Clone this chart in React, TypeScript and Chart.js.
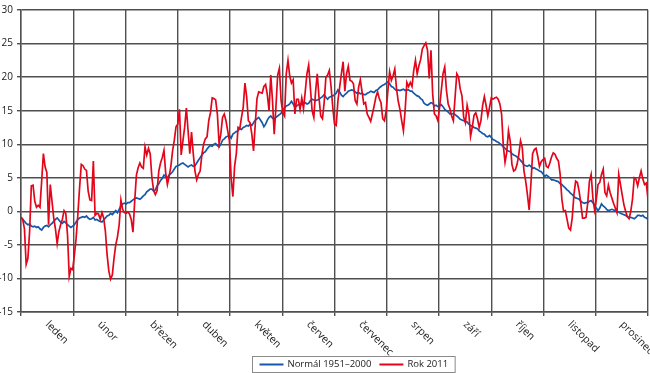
import React, { useEffect, useRef } from "react";
import { Chart, registerables } from "chart.js";

Chart.register(...registerables);

const MONTHS = ["leden", "únor", "březen", "duben", "květen", "červen", "červenec", "srpen", "září", "říjen", "listopad", "prosinec"];
const SERIES_NAMES = ["Normál 1951–2000", "Rok 2011"];
const Y_MIN = -15;
const Y_MAX = 30;
const Y_STEP = 5;

// daily normal 1951–2000 (°C)
const NORMAL = [
  -0.9, -1.2, -1.5, -1.8, -2.0, -1.9, -2.2, -2.3, -2.2, -2.4, -2.3, -2.6, -2.8, -2.4, -2.2, -2.1, -2.3, -2.0, -1.8, -1.5, -1.2, -1.0, -1.3, -1.6, -1.8, -1.5, -1.7, -2.0, -2.2, -2.4, -2.2,
  -2.0, -1.6, -1.2, -1.0, -0.9, -0.8, -0.9, -0.7, -1.0, -1.2, -1.1, -0.9, -1.3, -1.2, -1.4, -1.5, -1.6, -1.3, -1.0, -0.7, -0.6, -0.3, -0.5, -0.2, 0.1, -0.2, 0.3, 0.8, 1.1, 1.2, 1.1, 1.3,
  1.3, 1.5, 1.7, 1.9, 2.0, 1.9, 1.8, 2.0, 2.3, 2.5, 2.9, 3.1, 3.3, 3.3, 3.0, 3.2, 3.8, 4.1, 4.6, 4.9, 5.4, 5.2, 5.0, 5.4, 5.6, 5.9, 6.3, 6.7, 6.8, 6.9, 7.1,
  7.2, 7.0, 6.8, 6.6, 6.8, 6.9, 6.7, 6.8, 7.2, 7.6, 8.0, 8.4, 8.7, 8.9, 9.3, 9.6, 9.8, 9.7, 10.0, 10.1, 9.8, 9.6, 10.0, 10.6, 10.8, 11.1, 11.2, 11.3, 10.9, 11.5,
  11.7, 11.9, 12.0, 12.3, 12.2, 12.5, 12.6, 12.8, 12.7, 13.0, 12.8, 13.2, 13.6, 13.8, 14.0, 13.6, 13.2, 12.6, 13.0, 13.6, 14.0, 14.2, 13.9, 13.7, 14.0, 14.2, 14.4, 14.6, 15.2, 15.4, 15.7,
  15.8, 16.0, 16.4, 16.0, 15.5, 15.7, 15.9, 16.0, 15.9, 16.1, 16.2, 16.0, 16.1, 16.5, 16.7, 16.6, 16.5, 16.6, 16.7, 16.9, 17.1, 17.4, 17.0, 16.7, 17.0, 17.1, 17.2, 17.4, 17.6, 18.1,
  17.8, 17.3, 17.1, 17.4, 17.6, 17.9, 18.0, 18.1, 18.0, 17.8, 17.6, 17.7, 17.5, 17.6, 17.4, 17.4, 17.6, 17.7, 17.9, 17.8, 17.7, 18.0, 18.1, 18.4, 18.6, 18.8, 18.9, 19.1, 19.3, 19.0, 18.6,
  18.5, 18.2, 18.0, 18.1, 18.0, 18.1, 18.2, 18.0, 18.1, 18.1, 17.9, 17.9, 17.6, 17.4, 17.2, 17.1, 16.8, 16.6, 16.1, 15.9, 15.8, 16.0, 16.2, 16.1, 15.7, 15.8, 15.6, 15.7, 15.9, 15.6, 15.2,
  15.0, 14.8, 14.5, 14.5, 14.6, 14.4, 14.2, 14.0, 13.7, 13.6, 13.5, 13.4, 13.3, 13.0, 12.8, 12.7, 12.5, 12.4, 12.3, 12.0, 11.8, 11.6, 11.5, 11.2, 11.1, 11.3, 11.0, 10.7, 10.6, 10.4,
  10.3, 10.1, 9.9, 9.6, 9.4, 9.1, 9.0, 8.9, 8.6, 8.4, 8.3, 8.1, 7.9, 7.6, 7.3, 6.9, 6.8, 6.7, 6.9, 6.7, 6.4, 6.5, 6.3, 6.2, 6.0, 5.9, 5.6, 5.2, 5.4, 5.2, 5.0,
  4.7, 4.7, 4.6, 4.5, 4.4, 4.1, 4.0, 3.7, 3.5, 3.2, 3.0, 2.7, 2.5, 2.2, 2.0, 1.9, 1.8, 1.5, 1.3, 1.2, 1.3, 1.3, 1.5, 1.6, 1.3, 0.8, 0.5, 0.1, 0.5, 1.1,
  0.8, 0.6, 0.3, 0.1, 0.2, 0.3, 0.2, 0.1, 0.0, -0.1, -0.3, -0.4, -0.5, -0.6, -0.8, -0.9, -0.9, -1.0, -1.1, -0.9, -0.6, -0.6, -0.7, -0.6, -0.9, -1.0, -1.2,
];

// daily values 2011 (°C)
const Y2011 = [
  -0.9, -1.2, -2.6, -7.9, -7.0, -3.0, 3.8, 3.9, 1.5, 0.6, 0.9, 0.6, 4.5, 8.6, 6.6, 5.8, -2.0, 4.0, 1.5, -1.0, -2.6, -4.8, -3.0, -2.0, -1.2, 0.1, -0.3, -3.5, -9.7, -8.5, -8.7,
  -6.5, -4.0, -0.5, 3.5, 7.0, 6.8, 6.3, 6.1, 3.0, 1.7, 1.6, 7.5, -0.6, -0.3, -0.4, -1.2, -0.2, -1.0, -3.0, -6.5, -8.9, -10.1, -9.5, -7.0, -5.0, -3.8, -2.0, 1.7, 0.3, -0.2,
  -0.3, -0.1, -0.4, -1.2, -3.1, 1.5, 5.4, 6.5, 7.2, 6.6, 6.4, 9.6, 8.4, 9.4, 8.6, 5.0, 3.1, 2.5, 3.1, 6.0, 7.2, 8.0, 9.1, 5.7, 4.0, 5.2, 6.7, 9.0, 10.6, 12.6,
  13.0, 15.2, 8.4, 10.5, 12.5, 15.4, 12.0, 8.6, 11.8, 8.6, 6.0, 4.7, 5.5, 6.0, 8.4, 10.0, 10.8, 11.1, 13.5, 14.7, 16.9, 16.8, 16.6, 14.5, 10.1, 11.5, 14.0, 14.5, 13.5, 12.0,
  10.5, 5.0, 2.2, 6.7, 8.6, 12.5, 12.3, 14.0, 15.5, 19.1, 17.1, 13.5, 13.2, 11.5, 9.0, 13.0, 16.8, 17.8, 17.7, 17.6, 18.6, 18.9, 17.4, 15.0, 20.3, 16.5, 11.5, 15.5, 20.3, 21.3,
  16.5, 14.7, 14.2, 20.5, 22.5, 20.2, 19.1, 19.6, 14.5, 16.7, 16.7, 15.2, 16.9, 15.3, 17.8, 20.5, 21.8, 18.4, 15.0, 14.0, 17.8, 20.5, 17.0, 14.2, 13.8, 16.2, 20.0, 20.3, 21.0, 18.6,
  15.5, 13.0, 12.8, 16.5, 18.5, 20.5, 22.3, 17.9, 20.5, 21.6, 19.5, 19.4, 19.0, 16.5, 16.0, 18.5, 19.6, 17.8, 16.0, 16.2, 14.5, 14.0, 13.4, 14.5, 15.7, 17.0, 17.8, 16.8, 16.2, 13.8,
  13.5, 15.0, 18.0, 20.8, 19.5, 20.2, 21.2, 18.3, 16.4, 15.2, 13.5, 12.0, 15.0, 19.2, 18.6, 19.2, 18.6, 21.0, 22.5, 20.5, 21.7, 22.6, 24.2, 24.7, 25.1, 24.0, 19.8, 24.0, 17.5, 14.5,
  14.2, 13.5, 15.5, 18.0, 20.5, 21.5, 18.0, 16.0, 15.3, 14.2, 13.5, 17.0, 20.5, 20.0, 18.2, 17.2, 14.0, 13.2, 15.8, 14.5, 11.2, 12.6, 14.3, 14.7, 13.8, 12.5, 13.5, 15.8, 17.1, 15.8,
  14.2, 15.5, 16.9, 16.7, 16.9, 17.0, 16.7, 16.0, 14.5, 9.8, 7.3, 8.8, 12.0, 10.5, 7.0, 6.0, 6.2, 7.0, 8.5, 10.5, 9.5, 6.0, 4.5, 2.5, 0.2, 4.0, 8.6, 9.2, 9.4, 8.2,
  6.7, 7.4, 7.7, 7.9, 6.7, 6.5, 7.2, 8.1, 8.7, 8.5, 7.9, 7.5, 5.5, 1.8, 0.0, 0.1, -1.2, -2.5, -2.8, -1.0, 2.5, 4.5, 4.3, 3.0, 1.2, -1.0, -1.0, -0.9, 1.2, 4.5,
  5.5, 2.0, 0.2, 1.8, 4.0, 4.3, 5.5, 6.3, 2.8, 2.3, 3.9, 2.8, 2.0, 1.2, 0.5, -0.2, 5.5, 4.0, 2.5, 1.0, 0.0, -0.8, -1.1, 0.0, 1.8, 5.0, 4.8, 3.8, 5.0, 6.0,
  4.8, 4.0, 4.2, 1.8,
];

const BLUE = "#1558a8";
const RED = "#e3061b";
const GRID = "#4f4f4f";
const TEXT = "#1a1a1a";
const FONT = "'Open Sans', sans-serif";

const LAST = Y2011.length - 1;

const overlayPlugin = {
  id: "overlay",
  afterDraw(chart: any) {
    const ctx = chart.ctx;
    const xs = chart.scales.x;
    const area = chart.chartArea;
    ctx.save();
    ctx.font = `10.5px ${FONT}`;
    ctx.fillStyle = TEXT;
    ctx.textAlign = "left";
    ctx.textBaseline = "middle";
    const span = LAST / MONTHS.length;
    MONTHS.forEach((m, i) => {
      const cx = xs.getPixelForValue((i + 0.5) * span);
      ctx.save();
      ctx.translate(cx, area.bottom + 11);
      ctx.rotate(Math.PI / 4);
      ctx.fillText(m, 0, 0);
      ctx.restore();
    });

    // legend box
    ctx.font = `9.5px ${FONT}`;
    const sample = 24;
    const gapS = 4;
    const gapItem = 8;
    const pad = 7;
    const w1 = ctx.measureText(SERIES_NAMES[0]).width;
    const w2 = ctx.measureText(SERIES_NAMES[1]).width;
    const total = pad + sample + gapS + w1 + gapItem + sample + gapS + w2 + pad;
    const cxLegend = 353.5;
    const x0 = Math.round(cxLegend - total / 2) + 0.5;
    const y0 = 356.5;
    const h = 16;
    ctx.strokeStyle = "#8a8a8a";
    ctx.lineWidth = 1;
    ctx.strokeRect(x0, y0, total, h);
    const cy = y0 + h / 2;
    let x = x0 + pad;
    ctx.lineWidth = 2;
    ctx.strokeStyle = BLUE;
    ctx.beginPath();
    ctx.moveTo(x, cy);
    ctx.lineTo(x + sample, cy);
    ctx.stroke();
    x += sample + gapS;
    ctx.fillText(SERIES_NAMES[0], x, cy);
    x += w1 + gapItem;
    ctx.strokeStyle = RED;
    ctx.beginPath();
    ctx.moveTo(x, cy);
    ctx.lineTo(x + sample, cy);
    ctx.stroke();
    x += sample + gapS;
    ctx.fillText(SERIES_NAMES[1], x, cy);
    ctx.restore();
  },
};

export default function App() {
  const ref = useRef<HTMLCanvasElement | null>(null);

  useEffect(() => {
    if (!ref.current) return;
    const chart = new Chart(ref.current, {
      type: "line",
      data: {
        datasets: [
          {
            label: SERIES_NAMES[1],
            data: Y2011.map((v, i) => ({ x: i, y: v })),
            borderColor: RED,
            borderWidth: 1.7,
            pointRadius: 0,
            tension: 0,
            order: 0,
          },
          {
            label: SERIES_NAMES[0],
            data: NORMAL.map((v, i) => ({ x: i, y: v })),
            borderColor: BLUE,
            borderWidth: 1.7,
            pointRadius: 0,
            tension: 0,
            order: 1,
          },
        ],
      },
      options: {
        responsive: false,
        maintainAspectRatio: false,
        animation: false,
        layout: { padding: { top: 4, right: 2, left: 0, bottom: 0 } },
        plugins: { legend: { display: false }, tooltip: { enabled: false } },
        scales: {
          x: {
            type: "linear",
            min: 0,
            max: LAST,
            afterBuildTicks: (scale: any) => {
              const span = LAST / MONTHS.length;
              scale.ticks = MONTHS.map((_, i) => ({ value: i * span })).concat([{ value: LAST }]);
            },
            afterFit: (scale: any) => {
              scale.height = 61;
            },
            ticks: { display: false },
            grid: { color: GRID, lineWidth: 1.4, tickLength: 4, drawTicks: true },
            border: { display: true, color: GRID, width: 1.4 },
          },
          y: {
            min: Y_MIN,
            max: Y_MAX,
            afterFit: (scale: any) => {
              scale.width = 21;
            },
            ticks: {
              stepSize: Y_STEP,
              padding: 4,
              color: TEXT,
              font: { family: FONT, size: 10 },
            },
            grid: { color: GRID, lineWidth: 1.4, tickLength: 4, drawTicks: true },
            border: { display: true, color: GRID, width: 1.4 },
          },
        },
      },
      plugins: [overlayPlugin],
    });
    return () => chart.destroy();
  }, []);

  return (
    <div style={{ position: "absolute", left: 0, top: 0, width: 650, height: 373, background: "#fff" }}>
      <canvas ref={ref} width={650} height={373} style={{ display: "block" }} />
    </div>
  );
}
